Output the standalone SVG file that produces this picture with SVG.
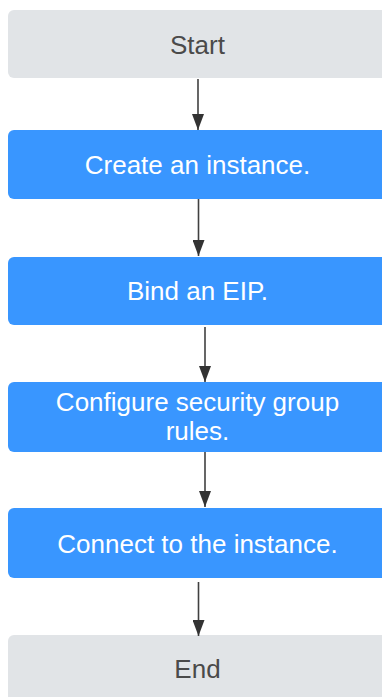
<svg xmlns="http://www.w3.org/2000/svg" width="382" height="697" viewBox="0 0 382 697">
  <style>
    .term rect { fill: #e1e4e7; }
    .step rect { fill: #3996ff; }
    text { font-family: "Liberation Sans", Arial, sans-serif; font-size: 26px; text-anchor: middle; }
    .term text { fill: #4a4a4a; }
    .step text { fill: #ffffff; }
    .edge { stroke: #404040; stroke-width: 1.6; fill: none; marker-end: url(#head); }
  </style>
  <defs>
    <!-- filled arrowhead, tip placed exactly at the path end -->
    <marker id="head" markerUnits="userSpaceOnUse" markerWidth="16" markerHeight="12" viewBox="0 0 16 12" refX="16" refY="6" orient="auto">
      <path d="M0,0 L16,6 L0,12 Z" fill="#333333"/>
    </marker>
  </defs>
  <rect width="382" height="697" fill="#ffffff"/>

  <g id="start" class="term">
    <rect x="8" y="10" width="380" height="68" rx="6"/>
    <text x="197.5" y="53.5">Start</text>
  </g>
  <g id="create" class="step">
    <rect x="8" y="130" width="380" height="69" rx="6"/>
    <text x="197.5" y="174">Create an instance.</text>
  </g>
  <g id="bind" class="step">
    <rect x="8" y="257" width="380" height="68" rx="6"/>
    <text x="197.5" y="300">Bind an EIP.</text>
  </g>
  <g id="configure" class="step">
    <rect x="8" y="382" width="380" height="70" rx="6"/>
    <text x="197.5" y="410.5">Configure security group</text>
    <text x="197.5" y="440">rules.</text>
  </g>
  <g id="connect" class="step">
    <rect x="8" y="508" width="380" height="70" rx="6"/>
    <text x="197.5" y="552.5">Connect to the instance.</text>
  </g>
  <g id="end" class="term">
    <rect x="8" y="635" width="380" height="70" rx="6"/>
    <text x="197.5" y="678">End</text>
  </g>

  <g id="connectors">
    <path class="edge" d="M198,79 V130"/>
    <path class="edge" d="M198.5,199 V256"/>
    <path class="edge" d="M205,327 V382"/>
    <path class="edge" d="M205,452 V507"/>
    <path class="edge" d="M198.5,582 V636"/>
  </g>
</svg>
